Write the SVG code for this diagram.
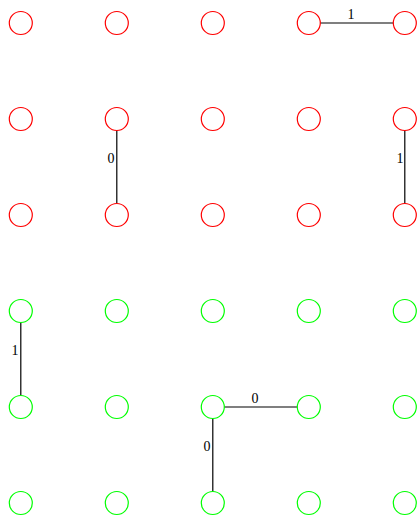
<svg xmlns="http://www.w3.org/2000/svg" width="417" height="517" viewBox="0 0 417 517">
<style>
.r{fill:none;stroke:#ff0000;stroke-width:1.2}
.g{fill:none;stroke:#00ff00;stroke-width:1.2}
.e{stroke:#000;stroke-width:1.2;fill:none}
.l{font-family:"Liberation Serif",serif;font-size:14px;fill:#000;text-anchor:middle}
</style>
<rect width="417" height="517" fill="#fff"/>
<g id="connectors">
<line class="e" x1="320.3" y1="23" x2="393.3" y2="23"/>
<text class="l" x="351" y="19">1</text>
<line class="e" x1="116.8" y1="130.5" x2="116.8" y2="203.5"/>
<text class="l" x="111" y="163">0</text>
<line class="e" x1="404.8" y1="130.5" x2="404.8" y2="203.5"/>
<text class="l" x="400" y="163">1</text>
<line class="e" x1="20.8" y1="322.5" x2="20.8" y2="395.5"/>
<text class="l" x="15" y="355">1</text>
<line class="e" x1="224.3" y1="407" x2="297.3" y2="407"/>
<text class="l" x="255" y="403">0</text>
<line class="e" x1="212.8" y1="418.5" x2="212.8" y2="491.5"/>
<text class="l" x="207" y="451">0</text>
</g>
<g id="n00"><circle class="r" cx="20.8" cy="23" r="11.5"/></g>
<g id="n01"><circle class="r" cx="116.8" cy="23" r="11.5"/></g>
<g id="n02"><circle class="r" cx="212.8" cy="23" r="11.5"/></g>
<g id="n03"><circle class="r" cx="308.8" cy="23" r="11.5"/></g>
<g id="n04"><circle class="r" cx="404.8" cy="23" r="11.5"/></g>
<g id="n10"><circle class="r" cx="20.8" cy="119" r="11.5"/></g>
<g id="n11"><circle class="r" cx="116.8" cy="119" r="11.5"/></g>
<g id="n12"><circle class="r" cx="212.8" cy="119" r="11.5"/></g>
<g id="n13"><circle class="r" cx="308.8" cy="119" r="11.5"/></g>
<g id="n14"><circle class="r" cx="404.8" cy="119" r="11.5"/></g>
<g id="n20"><circle class="r" cx="20.8" cy="215" r="11.5"/></g>
<g id="n21"><circle class="r" cx="116.8" cy="215" r="11.5"/></g>
<g id="n22"><circle class="r" cx="212.8" cy="215" r="11.5"/></g>
<g id="n23"><circle class="r" cx="308.8" cy="215" r="11.5"/></g>
<g id="n24"><circle class="r" cx="404.8" cy="215" r="11.5"/></g>
<g id="n30"><circle class="g" cx="20.8" cy="311" r="11.5"/></g>
<g id="n31"><circle class="g" cx="116.8" cy="311" r="11.5"/></g>
<g id="n32"><circle class="g" cx="212.8" cy="311" r="11.5"/></g>
<g id="n33"><circle class="g" cx="308.8" cy="311" r="11.5"/></g>
<g id="n34"><circle class="g" cx="404.8" cy="311" r="11.5"/></g>
<g id="n40"><circle class="g" cx="20.8" cy="407" r="11.5"/></g>
<g id="n41"><circle class="g" cx="116.8" cy="407" r="11.5"/></g>
<g id="n42"><circle class="g" cx="212.8" cy="407" r="11.5"/></g>
<g id="n43"><circle class="g" cx="308.8" cy="407" r="11.5"/></g>
<g id="n44"><circle class="g" cx="404.8" cy="407" r="11.5"/></g>
<g id="n50"><circle class="g" cx="20.8" cy="503" r="11.5"/></g>
<g id="n51"><circle class="g" cx="116.8" cy="503" r="11.5"/></g>
<g id="n52"><circle class="g" cx="212.8" cy="503" r="11.5"/></g>
<g id="n53"><circle class="g" cx="308.8" cy="503" r="11.5"/></g>
<g id="n54"><circle class="g" cx="404.8" cy="503" r="11.5"/></g>
</svg>
